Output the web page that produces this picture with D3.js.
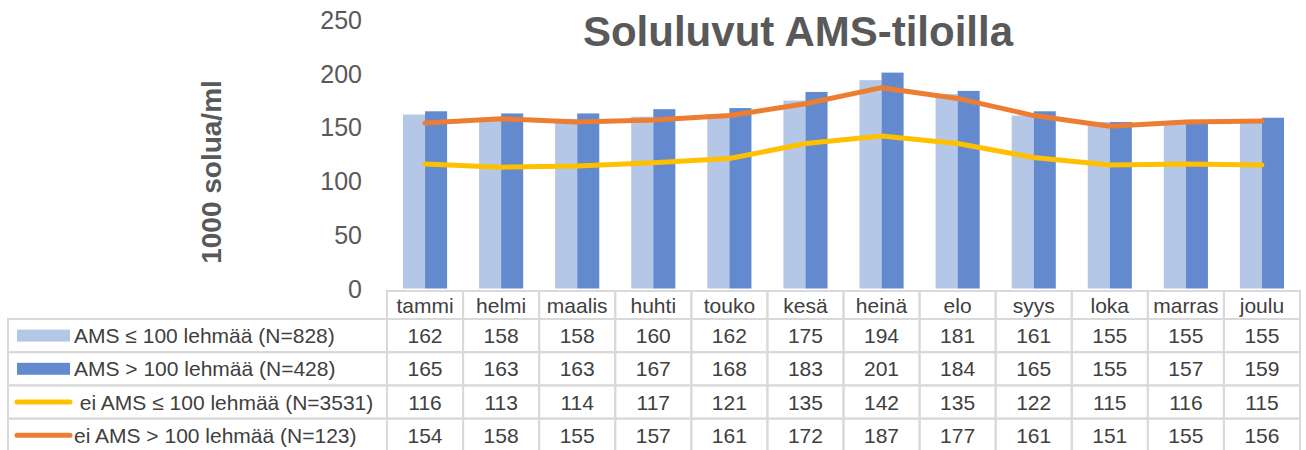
<!DOCTYPE html>
<html>
<head>
<meta charset="utf-8">
<script src="https://cdn.jsdelivr.net/npm/d3@7"></script>
<style>
  body { margin: 0; background: #fff; }
  text { font-family: "Liberation Sans", Arial, sans-serif; }
</style>
</head>
<body>
<svg width="1306" height="450"></svg>
<script>
var months = ["tammi", "helmi", "maalis", "huhti", "touko", "kesä", "heinä", "elo", "syys", "loka", "marras", "joulu"];
var amsSmall = [162, 158, 158, 160, 162, 175, 194, 181, 161, 155, 155, 155];
var amsLarge = [165, 163, 163, 167, 168, 183, 201, 184, 165, 155, 157, 159];
var eiAmsSmall = [116, 113, 114, 117, 121, 135, 142, 135, 122, 115, 116, 115];
var eiAmsLarge = [154, 158, 155, 157, 161, 172, 187, 177, 161, 151, 155, 156];
var yTicks = [0, 50, 100, 150, 200, 250];

var series = [
  { name: "AMS ≤ 100 lehmää (N=828)", values: amsSmall, type: "bar", color: "#B4C7E7" },
  { name: "AMS > 100 lehmää (N=428)", values: amsLarge, type: "bar", color: "#638ACF" },
  { name: " ei AMS ≤ 100 lehmää (N=3531)", values: eiAmsSmall, type: "line", color: "#FFC000" },
  { name: "ei AMS > 100 lehmää (N=123)", values: eiAmsLarge, type: "line", color: "#ED7D31" }
];

var svg = d3.select("svg");
var left = 387, right = 1300;
var grid = "#D9D9D9";
var tableFont = 21;

var x = d3.scaleBand().domain(months).range([left, right]);
var bw = x.bandwidth();
var xs = d3.scaleBand().domain([0, 1]).range([bw * 0.21, bw * 0.79]);
var y = d3.scaleLinear().domain([0, 250]).range([288.5, 20]);

// title
svg.append("text")
    .attr("x", 798).attr("y", 46)
    .attr("text-anchor", "middle")
    .attr("font-size", 42).attr("font-weight", "bold")
    .attr("fill", "#595959")
    .text("Soluluvut AMS-tiloilla");

// y axis title
svg.append("text")
    .attr("transform", "translate(221,172) rotate(-90)")
    .attr("text-anchor", "middle")
    .attr("font-size", 28).attr("font-weight", "bold")
    .attr("fill", "#595959")
    .text("1000 solua/ml");

// y ticks
svg.append("g").selectAll("text")
    .data(yTicks)
    .enter().append("text")
    .attr("x", 362).attr("y", function(d) { return y(d); })
    .attr("dy", "0.36em")
    .attr("text-anchor", "end")
    .attr("font-size", 25)
    .attr("fill", "#595959")
    .text(function(d) { return d; });

// bars
series.filter(function(s) { return s.type == "bar"; }).forEach(function(s, si) {
  svg.append("g").selectAll("rect")
      .data(s.values)
      .enter().append("rect")
      .attr("x", function(d, i) { return x(months[i]) + xs(si); })
      .attr("width", xs.bandwidth())
      .attr("y", function(d) { return y(d); })
      .attr("height", function(d) { return y(0) - y(d); })
      .attr("fill", s.color);
});

// lines
var line = d3.line()
    .x(function(d, i) { return x(months[i]) + bw / 2; })
    .y(function(d) { return y(d); });
series.filter(function(s) { return s.type == "line"; }).forEach(function(s) {
  svg.append("path")
      .datum(s.values)
      .attr("d", line)
      .attr("fill", "none")
      .attr("stroke", s.color)
      .attr("stroke-width", 5)
      .attr("stroke-linejoin", "round")
      .attr("stroke-linecap", "round");
});

// data table
var headTop = 291, headH = 28, rowH = 33.2, legLeft = 8;
var table = svg.append("g");

table.selectAll("rect.head")
    .data(months)
    .enter().append("rect")
    .attr("x", function(d) { return x(d); })
    .attr("y", headTop)
    .attr("width", bw).attr("height", headH)
    .attr("fill", "none").attr("stroke", grid).attr("stroke-width", 2);

table.selectAll("text.head")
    .data(months)
    .enter().append("text")
    .attr("x", function(d) { return x(d) + bw / 2; })
    .attr("y", headTop + headH / 2)
    .attr("dy", "0.36em")
    .attr("text-anchor", "middle")
    .attr("font-size", tableFont)
    .attr("fill", "#404040")
    .text(function(d) { return d; });

series.forEach(function(s, r) {
  var top = headTop + headH + r * rowH;
  var cy = top + rowH / 2;
  var row = table.append("g");

  row.append("rect")
      .attr("x", legLeft).attr("y", top)
      .attr("width", left - legLeft).attr("height", rowH)
      .attr("fill", "none").attr("stroke", grid).attr("stroke-width", 2);

  if (s.type == "bar") {
    row.append("rect")
        .attr("x", 17).attr("y", cy - 6)
        .attr("width", 53).attr("height", 12)
        .attr("fill", s.color);
  } else {
    row.append("line")
        .attr("x1", 17).attr("x2", 70)
        .attr("y1", cy).attr("y2", cy)
        .attr("stroke", s.color).attr("stroke-width", 5)
        .attr("stroke-linecap", "round");
  }

  row.append("text")
      .attr("x", 74).attr("y", cy)
      .attr("dy", "0.36em")
      .attr("font-size", tableFont)
      .attr("fill", "#404040")
      .attr("xml:space", "preserve")
      .style("white-space", "pre")
      .text(s.name);

  row.selectAll("rect.cell")
      .data(s.values)
      .enter().append("rect")
      .attr("x", function(d, i) { return x(months[i]); })
      .attr("y", top)
      .attr("width", bw).attr("height", rowH)
      .attr("fill", "none").attr("stroke", grid).attr("stroke-width", 2);

  row.selectAll("text.val")
      .data(s.values)
      .enter().append("text")
      .attr("x", function(d, i) { return x(months[i]) + bw / 2; })
      .attr("y", cy)
      .attr("dy", "0.36em")
      .attr("text-anchor", "middle")
      .attr("font-size", tableFont)
      .attr("fill", "#404040")
      .text(function(d) { return d; });
});
</script>
</body>
</html>
